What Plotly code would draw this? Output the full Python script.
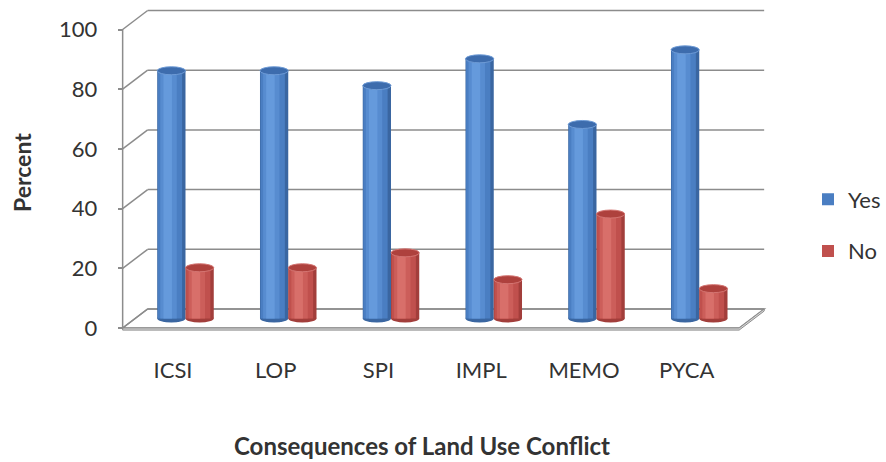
import plotly.graph_objects as go

# ---- data -------------------------------------------------------------
categories = ["ICSI", "LOP", "SPI", "IMPL", "MEMO", "PYCA"]
yes_pct = [83, 83, 78, 87, 65, 90]
no_pct = [17, 17, 22, 13, 35, 10]
y_ticks = [0, 20, 40, 60, 80, 100]

# ---- styling ----------------------------------------------------------
FONT = "Lato, 'Open Sans', sans-serif"
TEXT = "#333333"
GRID = "#8c8c8c"

W, H = 886, 462
# plot area (pixels)
PL, PR, PT, PB = 110, 770, 6, 334
# series plane: pixel position of category 0, pixels per category, zero line, pixels per unit
CAT0_PX, CAT_STEP = 185.5, 102.75
ZERO_PX, UNIT_PX = 318.5, 2.985
# half-depth of the 3-D box (front plane is left/down, back wall right/up)
DEPTH_X_PX, DEPTH_Y_PX = 12.5, 9.5
DX = DEPTH_X_PX / CAT_STEP
DY = DEPTH_Y_PX / UNIT_PX
XMIN, XMAX = -0.49, 5.51          # box extent on the series plane
BW = 0.275                          # bar (cylinder) width
RY = 4.0 / UNIT_PX                  # half-height of the cylinder end ellipses

# cylinder shading: (width fraction, centre shift fraction, colour)
yes_layers = [(1.00, 0.00, "#3A66A1"), (0.86, -0.05, "#4A7EC2"),
              (0.58, -0.10, "#578CD0"), (0.30, -0.13, "#659ADC")]
no_layers = [(1.00, 0.00, "#A23E3B"), (0.86, -0.05, "#C0504D"),
             (0.58, -0.10, "#CC5E5A"), (0.30, -0.13, "#D86F6A")]

series = [
    ("Yes", yes_pct, -BW / 2, yes_layers, "#3D6CAD", "#6E9BD6"),
    ("No", no_pct, BW / 2, no_layers, "#AE413D", "#D47572"),
]

fig = go.Figure()
shapes = []

# floor slab and its front face
floor_path = (f"M {XMIN - DX},{-DY} L {XMAX - DX},{-DY} "
              f"L {XMAX + DX},{DY} L {XMIN + DX},{DY} Z")
shapes.append(dict(type="path", path=floor_path, xref="x", yref="y",
                   fillcolor="#ffffff", line=dict(color=GRID, width=1.5),
                   layer="below"))
slab = 0.7
shapes.append(dict(type="path", xref="x", yref="y", layer="below",
                   path=(f"M {XMIN - DX},{-DY} L {XMAX - DX},{-DY} "
                         f"L {XMAX + DX},{DY} L {XMAX + DX},{DY - slab} "
                         f"L {XMAX - DX},{-DY - slab} L {XMIN - DX},{-DY - slab} Z"),
                   fillcolor="#d9d9d9", line=dict(color=GRID, width=1)))

# back wall gridlines and side wall diagonals
for v in y_ticks:
    shapes.append(dict(type="line", xref="x", yref="y", layer="below",
                       x0=XMIN + DX, x1=XMAX + DX, y0=v + DY, y1=v + DY,
                       line=dict(color=GRID, width=1.5)))
    shapes.append(dict(type="line", xref="x", yref="y", layer="below",
                       x0=XMIN - DX, x1=XMIN + DX, y0=v - DY, y1=v + DY,
                       line=dict(color=GRID, width=1.5)))
# front-left vertical edge
shapes.append(dict(type="line", xref="x", yref="y", layer="below",
                   x0=XMIN - DX, x1=XMIN - DX, y0=-DY, y1=y_ticks[-1] - DY,
                   line=dict(color=GRID, width=1.5)))

# cylinders
for name, vals, centre, layers, top_fill, top_rim in series:
    for k, (wf, sf, col) in enumerate(layers):
        w = BW * wf
        fig.add_trace(go.Bar(
            x=categories, y=vals, name=name, legendgroup=name,
            showlegend=(k == 1), width=w, offset=centre + sf * BW - w / 2,
            marker=dict(color=col, line=dict(width=0)), hoverinfo="skip"))
    for i, v in enumerate(vals):
        xc = i + centre
        # rounded base
        shapes.append(dict(type="circle", xref="x", yref="y", layer="below",
                           x0=xc - BW / 2, x1=xc + BW / 2, y0=-RY, y1=RY,
                           fillcolor=layers[0][2], line=dict(width=0)))
        # top cap
        shapes.append(dict(type="circle", xref="x", yref="y", layer="above",
                           x0=xc - BW / 2, x1=xc + BW / 2, y0=v - RY, y1=v + RY,
                           fillcolor=top_fill, line=dict(color=top_rim, width=1)))

# carrier for the front-plane axes
fig.add_trace(go.Scatter(x=categories, y=yes_pct, xaxis="x2", yaxis="y2",
                         mode="markers", marker=dict(opacity=0),
                         showlegend=False, hoverinfo="skip"))

pw, ph = PR - PL, PB - PT
front_zero_px = ZERO_PX + DEPTH_Y_PX
front_cat0_px = CAT0_PX - DEPTH_X_PX
front_left_px = CAT0_PX + XMIN * CAT_STEP - DEPTH_X_PX

fig.update_layout(
    width=W, height=H,
    margin=dict(l=PL, r=W - PR, t=PT, b=H - PB, autoexpand=False),
    paper_bgcolor="white", plot_bgcolor="white",
    barmode="overlay", hovermode=False,
    font=dict(family=FONT, color=TEXT, size=22),
    shapes=shapes,
    xaxis=dict(range=[(PL - CAT0_PX) / CAT_STEP, (PR - CAT0_PX) / CAT_STEP],
               visible=False, fixedrange=True),
    yaxis=dict(range=[(ZERO_PX - PB) / UNIT_PX, (ZERO_PX - PT) / UNIT_PX],
               visible=False, fixedrange=True),
    xaxis2=dict(overlaying="x", anchor="free",
                position=(PB - front_zero_px) / ph,
                range=[(PL - front_cat0_px) / CAT_STEP, (PR - front_cat0_px) / CAT_STEP],
                showgrid=False, zeroline=False, showline=False, ticks="",
                ticklabelstandoff=27, tickfont=dict(size=22, color=TEXT)),
    yaxis2=dict(overlaying="y", anchor="free", side="left",
                position=(front_left_px - PL) / pw,
                range=[(front_zero_px - PB) / UNIT_PX, (front_zero_px - PT) / UNIT_PX],
                tickvals=y_ticks, showgrid=False, zeroline=False, showline=False,
                ticks="outside", ticklen=5, tickcolor=GRID, tickwidth=1.5,
                ticklabelstandoff=16, tickfont=dict(size=22, color=TEXT)),
    legend=dict(x=(808 - PL) / pw, y=(PB - 225.5) / ph, xanchor="left",
                yanchor="middle", bgcolor="rgba(0,0,0,0)", tracegroupgap=20,
                font=dict(size=22, color=TEXT), itemwidth=30),
    annotations=[
        dict(text="Percent", textangle=-90, xref="paper", yref="paper",
             x=(22 - PL) / pw, y=(PB - 173) / ph, xanchor="center",
             yanchor="middle", showarrow=False,
             font=dict(size=23, color=TEXT, weight="bold")),
        dict(text="Consequences of Land Use Conflict", xref="paper", yref="paper",
             x=(422 - PL) / pw, y=(PB - 445) / ph, xanchor="center",
             yanchor="middle", showarrow=False, borderpad=0,
             font=dict(size=24, color=TEXT, weight="bold")),
    ],
)

fig.write_html("out.html")
